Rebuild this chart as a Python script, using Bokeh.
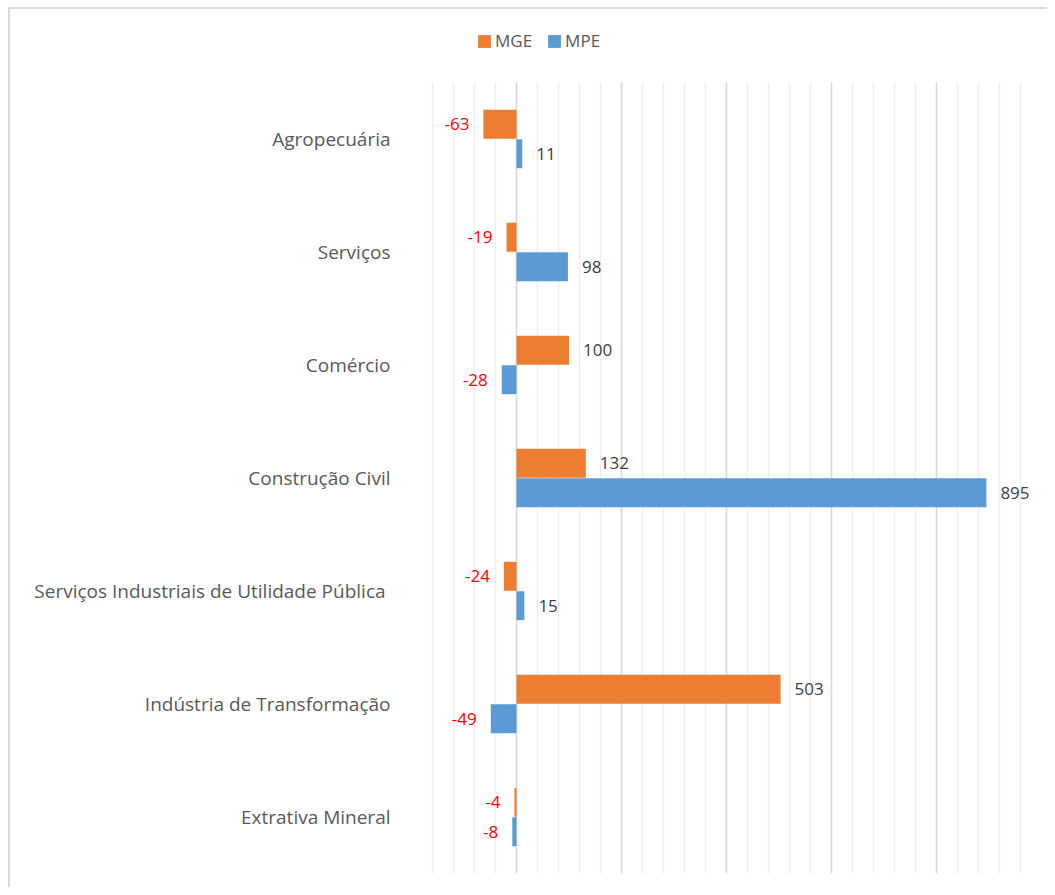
from bokeh.plotting import figure
from bokeh.models import (ColumnDataSource, FixedTicker, LabelSet, Legend, LegendItem,
                          BoxAnnotation, Range1d)
from bokeh.transform import dodge
from bokeh.core.properties import value
from bokeh.embed import file_html
from bokeh.resources import INLINE

categories = ["Agropecuária", "Serviços", "Comércio", "Construção Civil",
              "Serviços Industriais de Utilidade  Pública",
              "Indústria de Transformação", "Extrativa Mineral"]
mge = [-63, -19, 100, 132, -24, 503, -4]
mpe = [11, 98, -28, 895, 15, -49, -8]
series_names = ["MGE", "MPE"]

ORANGE = "#ED7D31"
BLUE = "#5B9BD5"
FONT = "Open Sans"

n = len(categories)
pos = [n - 1 - i for i in range(n)]          # first category at the top
top_extra = 70 / 113                           # room above the bars for the legend

p = figure(width=1047, height=887, x_range=Range1d(-200, 1000),
           y_range=Range1d(-0.5, n - 0.5 + top_extra),
           output_backend="svg", toolbar_location=None,
           min_border_left=411, min_border_right=6, min_border_top=12, min_border_bottom=14)
# chart-area border (left/top edges visible), drawn behind a transparent canvas border
p.styles = {"box-shadow": "inset 8px 7px 0 0 #ffffff, inset 10px 9px 0 0 #d9d9d9",
            "background-color": "#ffffff"}
p.border_fill_alpha = 0
p.outline_line_color = None

src = ColumnDataSource(dict(pos=pos, mge=mge, mpe=mpe))
r1 = p.hbar(y=dodge("pos", 0.13), right="mge", left=0, height=0.256,
            source=src, fill_color=ORANGE, line_color=None)
r2 = p.hbar(y=dodge("pos", -0.13), right="mpe", left=0, height=0.256,
            source=src, fill_color=BLUE, line_color=None)

def add_labels(vals, off):
    pv = [(y, v) for y, v in zip(pos, vals) if v >= 0]
    nv = [(y, v) for y, v in zip(pos, vals) if v < 0]
    for items, align, xo, color in ((pv, "left", 14, "#404040"), (nv, "right", -14, "#FF0000")):
        if not items:
            continue
        s = ColumnDataSource(dict(pos=[i[0] for i in items], v=[i[1] for i in items],
                                  t=[str(i[1]) for i in items]))
        ls = LabelSet(x="v", y=dodge("pos", off), text="t", source=s,
                      x_offset=xo, text_align=value(align), text_baseline=value("middle"),
                      text_font=value(FONT), text_font_size=value("17px"),
                      text_color=value(color))
        p.add_layout(ls)

add_labels(mge, 0.13)
add_labels(mpe, -0.13)

p.xaxis.visible = False
p.xgrid.ticker = FixedTicker(ticks=list(range(-200, 1001, 200)),
                             minor_ticks=list(range(-200, 1001, 40)))
p.xgrid.grid_line_color = "#d9d9d9"
p.xgrid.grid_line_width = 1.5
p.xgrid.minor_grid_line_color = "#eeeeee"
p.xgrid.minor_grid_line_width = 1.5
p.ygrid.grid_line_color = None

# keep the grid lines out of the legend strip above the bars
p.add_layout(BoxAnnotation(bottom=n - 0.5, fill_color="white", fill_alpha=1, line_color=None))

ax = p.yaxis[0]
ax.ticker = FixedTicker(ticks=pos)
ax.major_label_overrides = {y: c for y, c in zip(pos, categories)}
ax.axis_line_color = None
ax.major_tick_line_color = None
ax.minor_tick_line_color = None
ax.major_label_text_font = FONT
ax.major_label_text_font_size = "19px"
ax.major_label_text_color = "#595959"
ax.major_label_standoff = 15

legend = Legend(items=[LegendItem(label=series_names[0], renderers=[r1]),
                       LegendItem(label=series_names[1], renderers=[r2])],
                orientation="horizontal", location=(65, 821),
                glyph_width=16, glyph_height=16, label_standoff=3, spacing=14,
                padding=0, margin=0, border_line_color=None, background_fill_alpha=0,
                label_text_font=FONT, label_text_font_size="17px", label_text_color="#595959",
                label_height=12)
p.add_layout(legend, "center")

open("out.html", "w").write(file_html(p, INLINE))
